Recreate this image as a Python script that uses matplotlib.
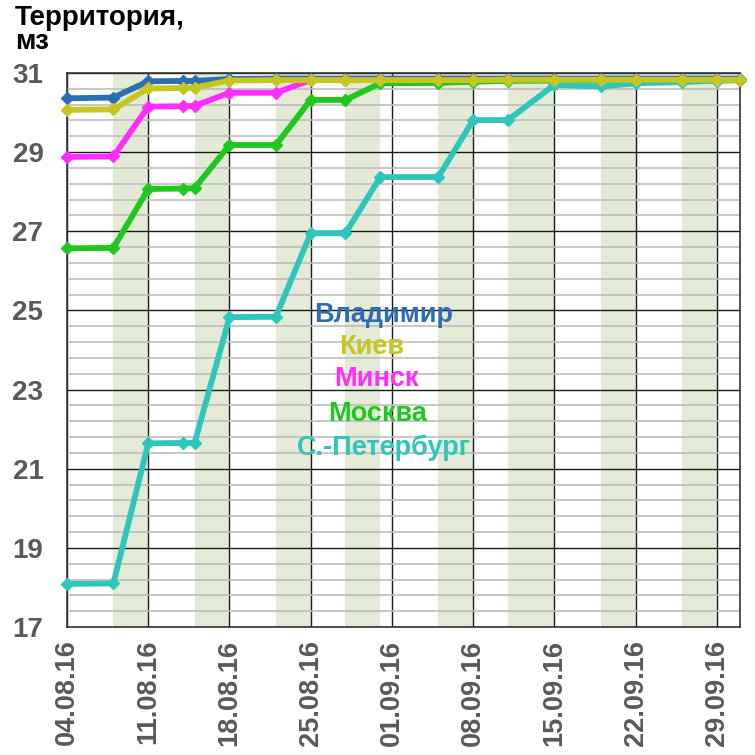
import matplotlib
matplotlib.use("Agg")
import matplotlib.pyplot as plt
import matplotlib.dates as mdates
import numpy as np
import pandas as pd

plt.rcParams['font.family'] = ['Liberation Sans', 'DejaVu Sans']

dates = ["04.08.16", "08.08.16", "11.08.16", "14.08.16", "15.08.16", "18.08.16",
         "22.08.16", "25.08.16", "28.08.16", "31.08.16", "05.09.16", "08.09.16",
         "11.09.16", "15.09.16", "19.09.16", "22.09.16", "26.09.16", "29.09.16",
         "01.10.16"]

vladimir = [30.36, 30.38, 30.79, 30.80, 30.80, 30.85, 30.86, 30.86, 30.86, 30.86,
            30.86, 30.86, 30.86, 30.86, 30.86, 30.86, 30.86, 30.86, 30.86]
kiev = [30.07, 30.08, 30.61, 30.62, 30.63, 30.81, 30.82, 30.82, 30.82, 30.82,
        30.82, 30.82, 30.83, 30.83, 30.83, 30.83, 30.83, 30.83, 30.83]
minsk = [28.88, 28.89, 30.15, 30.16, 30.17, 30.50, 30.50, 30.82, 30.82, 30.82,
         30.82, 30.82, 30.82, 30.82, 30.82, 30.82, 30.82, 30.82, 30.82]
moskva = [26.57, 26.58, 28.07, 28.08, 28.09, 29.18, 29.18, 30.32, 30.32, 30.74,
          30.75, 30.78, 30.80, 30.81, 30.81, 30.81, 30.81, 30.81, 30.82]
spb = [18.09, 18.10, 21.64, 21.65, 21.65, 24.83, 24.84, 26.95, 26.95, 28.37,
       28.37, 29.81, 29.81, 30.70, 30.66, 30.74, 30.77, 30.81, 30.82]

series_names = ["Владимир", "Киев", "Минск", "Москва", "С.-Петербург"]
series_colors = ["#2f6db3", "#c6c61e", "#ff2eff", "#1fc71f", "#2ec6bb"]

shade_start = ["08.08.16", "15.08.16", "22.08.16", "28.08.16", "05.09.16",
               "11.09.16", "19.09.16", "26.09.16"]
shade_end = ["11.08.16", "18.08.16", "25.08.16", "31.08.16", "08.09.16",
             "15.09.16", "22.09.16", "29.09.16"]

tick_dates = ["04.08.16", "11.08.16", "18.08.16", "25.08.16", "01.09.16",
              "08.09.16", "15.09.16", "22.09.16", "29.09.16"]
y_ticks = [17, 19, 21, 23, 25, 27, 29, 31]

def to_dt(lst):
    return pd.to_datetime(lst, format="%d.%m.%y")

x = to_dt(dates)

fig = plt.figure(figsize=(7.55, 7.55), dpi=100)
ax = fig.add_axes([67/755, 1-627/755, (740-67)/755, (627-73)/755])

for s, e in zip(to_dt(shade_start), to_dt(shade_end)):
    ax.axvspan(s, e, color="#e3ebd6", lw=0, zorder=0)

ax.set_ylim(17, 31)
ax.set_xlim(x[0], x[-1])
ax.set_yticks(y_ticks)
ax.set_yticks(np.arange(17, 31.01, 0.4), minor=True)
ax.grid(which="minor", axis="y", color="#bdbdbd", lw=1.2, zorder=1)
ax.grid(which="major", axis="y", color="#1a1a1a", lw=1.0, zorder=1)
ax.set_xticks(to_dt(tick_dates))
ax.xaxis.set_major_formatter(mdates.DateFormatter("%d.%m.%y"))
ax.grid(which="major", axis="x", color="#1a1a1a", lw=1.0, zorder=1)
ax.set_axisbelow(True)

data = {"Владимир": vladimir, "Киев": kiev, "Минск": minsk,
        "Москва": moskva, "С.-Петербург": spb}
order = ["Владимир", "Минск", "Москва", "С.-Петербург", "Киев"]
for name in order:
    c = series_colors[series_names.index(name)]
    ax.plot(x, data[name], color=c, lw=4.2, marker="D", ms=6.5,
            solid_joinstyle="round", zorder=3, clip_on=False)

for sp in ax.spines.values():
    sp.set_color("#333333")
    sp.set_linewidth(1.2)

ax.tick_params(axis="both", which="both", length=0)
ax.tick_params(axis="y", pad=17, labelsize=20, labelcolor="#595959")
ax.tick_params(axis="x", pad=9, labelsize=19.5, labelcolor="#595959",
               labelrotation=90)
for lbl in ax.get_xticklabels() + ax.get_yticklabels():
    lbl.set_fontweight("bold")

fig.text(15/755, 1-5/755, "Территория,\nмз", fontsize=20, fontweight="bold",
         color="black", ha="left", va="top", linespacing=0.9)

legend_x = [384, 372, 376, 377, 384]
legend_y = [315, 347, 379, 414, 448]
for name, c, lx, ly in zip(series_names, series_colors, legend_x, legend_y):
    fig.text(lx/755, 1-ly/755, name, fontsize=19.5, fontweight="bold",
             color=c, ha="center", va="center")

fig.savefig("out.png", dpi=100)
